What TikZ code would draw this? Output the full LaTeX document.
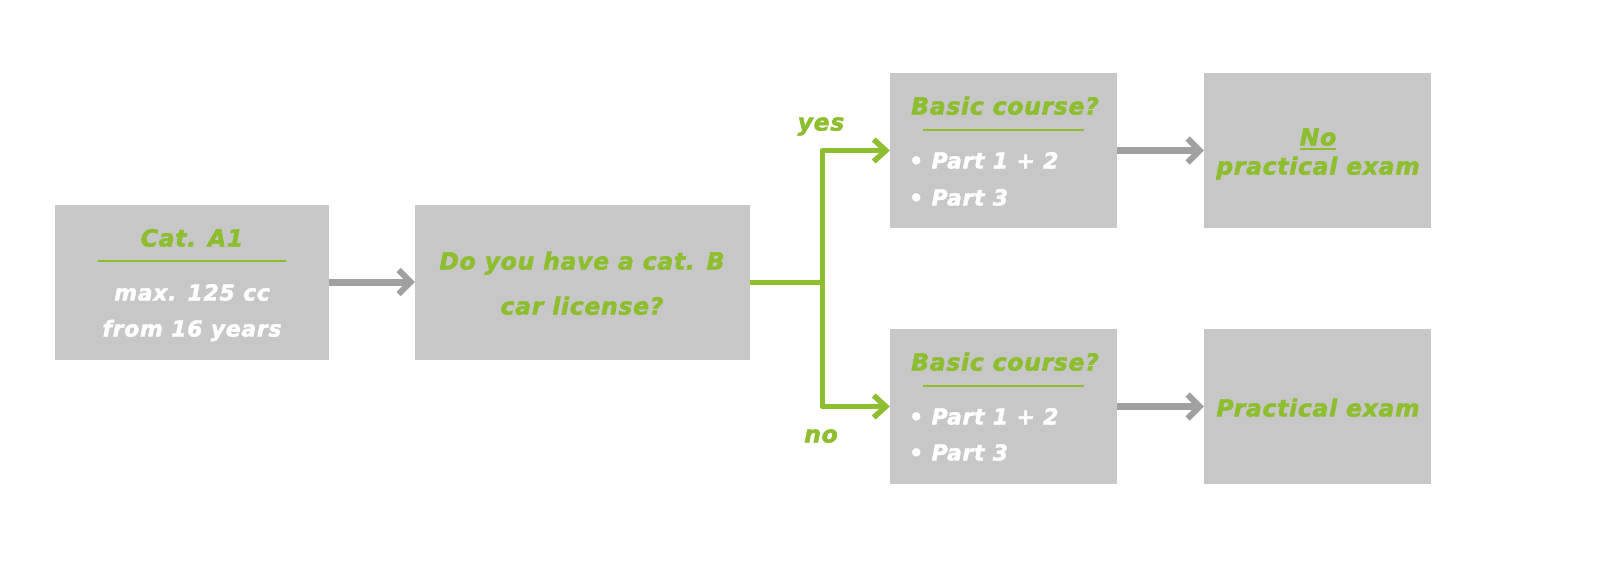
\documentclass[tikz,border=0pt]{standalone}
\usepackage{fontspec}
\setmainfont{DejaVu Sans}
\newfontfamily\heavyfont{DejaVu Sans Bold Oblique}[FakeBold=2,LetterSpace=3]
\usetikzlibrary{arrows.meta}
\definecolor{lgreen}{RGB}{140,190,45}
\definecolor{boxgray}{RGB}{199,199,199}
\definecolor{arrgray}{RGB}{160,160,160}
\tikzset{
  box/.style={fill=boxgray, draw=none, inner sep=0pt, minimum height=155pt},
  gtxt/.style={inner sep=0pt, text height=17pt, text depth=0pt, text=lgreen, font=\fontsize{23.5}{28}\heavyfont},
  wtxt/.style={inner sep=0pt, text height=17pt, text depth=0pt, text=white, font=\fontsize{22}{27}\heavyfont},
  rule/.style={draw=lgreen, line width=1.5pt},
  grayarrow/.style={draw=arrgray, line width=7pt, -{Straight Barb[length=12pt,width=24pt,line width=6pt]}},
  greenline/.style={draw=lgreen, line width=5pt, line join=round},
  greenarrow/.style={greenline, -{Straight Barb[length=12pt,width=22pt,line width=5.5pt]}},
}
\begin{document}
\begin{tikzpicture}[x=1pt,y=-1pt]
\useasboundingbox[fill=white] (0,0) rectangle (1614,565);
% boxes
\node[box, minimum width=274pt] (a1) at (192,282) {};
\node[box, minimum width=335pt] (q) at (582.5,282) {};
\node[box, minimum width=227pt] (yes) at (1003.5,150.5) {};
\node[box, minimum width=227pt] (no) at (1003.5,406.5) {};
\node[box, minimum width=227pt] (np) at (1317.5,150.5) {};
\node[box, minimum width=227pt] (pe) at (1317.5,406.5) {};
% A1 text
\node[gtxt] (a1t) at (192,238) {Cat. A1};
\coordinate (a1rl) at (98,261);
\coordinate (a1rr) at (286,261);
\draw[rule] (a1rl) -- (a1rr);
\node[wtxt] (a1b1) at (192,292) {max. 125 cc};
\node[wtxt] (a1b2) at (192,328) {from 16 years};
% Q text
\node[gtxt] (q1) at (582,261) {Do you have a cat. B};
\node[gtxt] (q2) at (582,306) {car license?};
% yes box text
\node[gtxt] (yt) at (1005,106) {Basic course?};
\coordinate (yrl) at (923,130);
\coordinate (yrr) at (1084,130);
\draw[rule] (yrl) -- (yrr);
\node[wtxt, anchor=west] (y1) at (909,160) {• Part 1 + 2};
\node[wtxt, anchor=west] (y2) at (909,197) {• Part 3};
% no box text
\node[gtxt] (nt) at (1005,362) {Basic course?};
\coordinate (nrl) at (923,386);
\coordinate (nrr) at (1084,386);
\draw[rule] (nrl) -- (nrr);
\node[wtxt, anchor=west] (n1) at (909,416) {• Part 1 + 2};
\node[wtxt, anchor=west] (n2) at (909,452) {• Part 3};
% results
\node[gtxt] (npt1) at (1318,137) {No};
\draw[draw=lgreen, line width=2pt] ([yshift=-3pt]npt1.south west) -- ([yshift=-3pt]npt1.south east);
\node[gtxt] (npt2) at (1318,166) {practical exam};
\node[gtxt] (pet) at (1318,408) {Practical exam};
% gray arrows
\draw[grayarrow] (a1.east) -- (q.west);
\draw[grayarrow] (yes.east) -- (np.west);
\draw[grayarrow] (no.east) -- (pe.west);
% green connectors
\coordinate (jn) at (822,282);
\draw[greenline] (q.east) -- (jn);
\draw[greenarrow] (jn) |- (yes.west);
\draw[greenarrow] (jn) |- (no.west);
\node[gtxt] (lyes) at (821,122) {yes};
\node[gtxt] (lno) at (821,434) {no};
\end{tikzpicture}
\end{document}
